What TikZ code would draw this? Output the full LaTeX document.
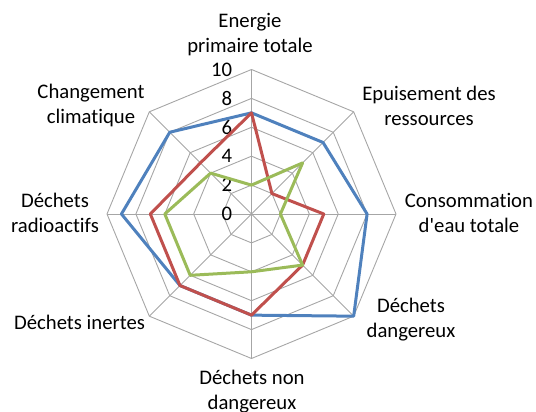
\documentclass[tikz,border=0pt]{standalone}
\usepackage{fontspec}
\setmainfont{Carlito}[Ligatures={NoCommon}]
\usepackage{tikz}
\definecolor{serieblue}{HTML}{4F81BD}
\definecolor{seriered}{HTML}{C0504D}
\definecolor{seriegreen}{HTML}{9BBB59}
\definecolor{gridgray}{HTML}{A6A6A6}
\tikzstyle{grille} = [draw=gridgray, line width=0.9pt]
\tikzstyle{courbe} = [line width=3pt, line join=round]
\tikzstyle{etiquette} = [align=center, font=\fontsize{20.7}{25}\selectfont, inner sep=0pt]
\tikzstyle{graduation} = [anchor=east, font=\fontsize{20.7}{24}\selectfont, inner sep=0pt]

\begin{document}
\begin{tikzpicture}[x=1pt, y=1pt]
    \useasboundingbox (0,0) rectangle (536,412);
    \begin{scope}[shift={(251.5pt,198pt)}, x=14.45pt, y=14.45pt]
    \foreach \r in {2,4,...,10}
      \draw [grille] (90:\r) -- (45:\r) -- (0:\r) -- (-45:\r) -- (-90:\r) -- (-135:\r) -- (180:\r) -- (135:\r) -- cycle;
    \foreach \a in {90,45,...,-225}
      \draw [grille] (0,0) -- (\a:10);
    \foreach \v in {0,2,...,10}
      \node [graduation] (grad\v) at (-1.32,\v) {\v};
    \draw [courbe, serieblue] (90:7) -- (45:7) -- (0:8) -- (-45:10) -- (-90:7) -- (-135:7) -- (180:9) -- (135:8) -- cycle;
    \draw [courbe, seriered] (90:7) -- (45:2) -- (0:5) -- (-45:5) -- (-90:7) -- (-135:7) -- (180:7) -- (135:5) -- cycle;
    \draw [courbe, seriegreen] (90:2) -- (45:5) -- (0:2) -- (-45:5) -- (-90:4) -- (-135:6) -- (180:6) -- (135:4) -- cycle;
    \end{scope}
    \node [etiquette] (energie) at (250,377) {Energie\\primaire totale};
    \node [etiquette] (epuisement) at (429,306) {Epuisement des\\ressources};
    \node [etiquette] (eau) at (469,199.5) {Consommation\\d\textquotesingle eau totale};
    \node [etiquette] (dangereux) at (411,92) {Déchets\\dangereux};
    \node [etiquette] (nondangereux) at (252,20.5) {Déchets non\\dangereux};
    \node [etiquette] (inertes) at (79.5,90) {Déchets inertes};
    \node [etiquette] (radioactifs) at (55,199.5) {Déchets\\radioactifs};
    \node [etiquette] (climat) at (91,306.5) {Changement\\climatique};
  \end{tikzpicture}
\end{document}
